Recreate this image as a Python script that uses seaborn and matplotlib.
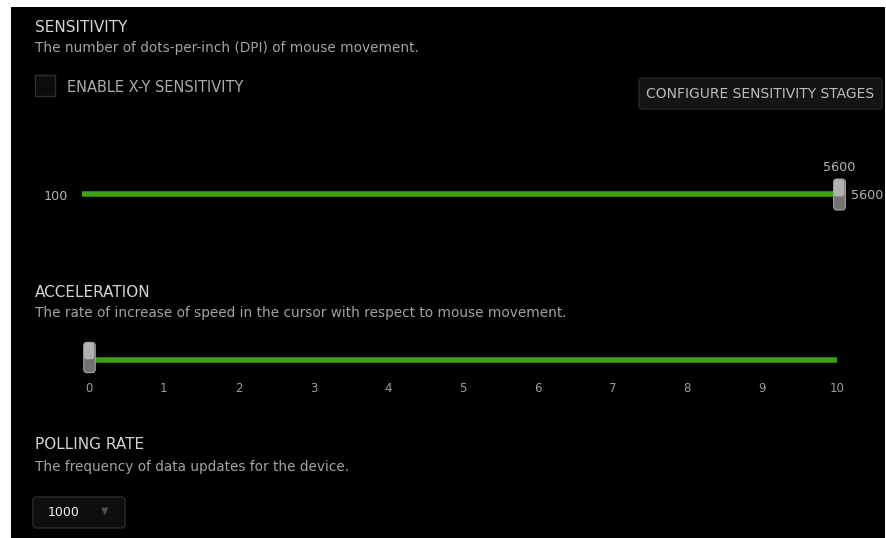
import numpy as np
import matplotlib
matplotlib.use("Agg")
import matplotlib.pyplot as plt
import seaborn as sns
from matplotlib.patches import Rectangle, FancyBboxPatch
from matplotlib.path import Path

# values shown in the panel
sens_range = [100, 5600]
sens_value = 5600
accel_range = [0, 10]
accel_ticks = [0, 1, 2, 3, 4, 5, 6, 7, 8, 9, 10]
accel_value = 0
polling_rate = 1000

sections = ["SENSITIVITY", "ACCELERATION", "POLLING RATE"]
descriptions = [
    "The number of dots-per-inch (DPI) of mouse movement.",
    "The rate of increase of speed in the cursor with respect to mouse movement.",
    "The frequency of data updates for the device.",
]
checkbox_label = "ENABLE X-Y SENSITIVITY"
button_label = "CONFIGURE SENSITIVITY STAGES"

W, H = 886, 538
GREEN = "#3c9f14"

sns.set_theme(style="dark", rc={"axes.facecolor": "none", "figure.facecolor": "white"})
plt.rcParams["font.family"] = ["DejaVu Sans"]

fig = plt.figure(figsize=(W / 100, H / 100), dpi=100)

# background axes in pixel units, only for the panel chrome
bg = fig.add_axes([0, 0, 1, 1])
bg.set_xlim(0, W)
bg.set_ylim(H, 0)
bg.axis("off")
bg.add_patch(Rectangle((11, 7), 874, 531, fc="black", ec="none"))


def slider_axes(x0, x1, yc, h=40):
    ax = fig.add_axes([x0 / W, 1 - (yc + h / 2) / H, (x1 - x0) / W, h / H])
    ax.set_ylim(-h / 2, h / 2)
    ax.set_yticks([])
    sns.despine(ax=ax, left=True, bottom=True)
    return ax


def rounded_rect(w=0.38, h=1.0, r=0.1, n=6):
    pts = []
    corners = [(w / 2 - r, h / 2 - r, 0), (-w / 2 + r, h / 2 - r, 90),
               (-w / 2 + r, -h / 2 + r, 180), (w / 2 - r, -h / 2 + r, 270)]
    for cx, cy, a0 in corners:
        for a in np.linspace(a0, a0 + 90, n):
            pts.append((cx + r * np.cos(np.radians(a)), cy + r * np.sin(np.radians(a))))
    pts.append(pts[0])
    return Path(pts, closed=True)


handle = rounded_rect()
handle_hl = rounded_rect(w=0.62, h=1.0, r=0.16)
handle_s = (31 * 0.72) ** 2


def draw_handle(ax, x, y, s):
    # grey knob, lighter at the top like the original
    sns.scatterplot(x=[x], y=[y], ax=ax, marker=handle, s=s, clip_on=False,
                    color="#727272", edgecolor="#a4a4a4", linewidth=0.8, zorder=3)
    sns.scatterplot(x=[x], y=[y + 6], ax=ax, marker=handle_hl, s=s * 0.3, clip_on=False,
                    color="#b2b2b2", edgecolor="none", linewidth=0, zorder=4)


# --- sensitivity slider
ax_s = slider_axes(82, 839, 194)
sns.lineplot(x=sens_range, y=[0, 0], ax=ax_s, color=GREEN, linewidth=4,
             solid_capstyle="butt")
draw_handle(ax_s, sens_value, 0, handle_s)
ax_s.set_xlim(sens_range)
ax_s.set_xticks([])
ax_s.set_xlabel("")
ax_s.set_ylabel("")
num_kw = dict(textcoords="offset pixels", va="baseline", color="#b4b4b4", fontsize=9.2)
ax_s.annotate(f"{sens_range[0]}", xy=(sens_range[0], 0), xytext=(-14, -6), ha="right", **num_kw)
ax_s.annotate(f"{sens_value}", xy=(sens_value, 0), xytext=(12, -5), ha="left", **num_kw)
ax_s.annotate(f"{sens_value}", xy=(sens_value, 0), xytext=(0, 23), ha="center", **num_kw)

# --- acceleration slider
ax_a = slider_axes(89, 837, 360)
sns.lineplot(x=accel_range, y=[0, 0], ax=ax_a, color=GREEN, linewidth=4,
             solid_capstyle="projecting")
draw_handle(ax_a, accel_value, 3, handle_s * 0.95)
ax_a.set_xlim(accel_range)
ax_a.set_xticks(accel_ticks)
ax_a.set_xticklabels([str(t) for t in accel_ticks])
ax_a.tick_params(axis="x", length=0, pad=1.5, labelsize=8.5, labelcolor="#9c9c9c")
ax_a.set_xlabel("")
ax_a.set_ylabel("")

# --- headings and descriptions
title_y = [32, 297, 449]
desc_y = [52, 317, 471]
for t, d, ty, dy in zip(sections, descriptions, title_y, desc_y):
    bg.text(35, ty, t, fontsize=11, color="#d4d4d4", va="baseline", ha="left")
    bg.text(35, dy, d, fontsize=9.8, color="#a2a2a2", va="baseline", ha="left")

# checkbox
bg.add_patch(Rectangle((35, 75), 20, 21, fc="#0c0c0c", ec="#2e2e2e", lw=1))
bg.text(67, 91.5, checkbox_label, fontsize=10.5, color="#ababab", va="baseline")

# button
bg.add_patch(FancyBboxPatch((639, 78), 243, 31, boxstyle="round,pad=0,rounding_size=3",
                            fc="#141414", ec="#262626", lw=1))
bg.text(760.5, 98, button_label, fontsize=10, color="#bcbcbc", va="baseline", ha="center")

# polling rate dropdown
bg.add_patch(FancyBboxPatch((33, 497), 92, 31, boxstyle="round,pad=0,rounding_size=3",
                            fc="#0e0e0e", ec="#2a2a2a", lw=1))
bg.text(48, 516.5, f"{polling_rate}", fontsize=9, color="#f2f2f2", va="baseline")
bg.text(105, 511, "\u25bc", fontsize=7, color="#4e4e4e", va="center", ha="center")

fig.savefig("out.png", dpi=100)
